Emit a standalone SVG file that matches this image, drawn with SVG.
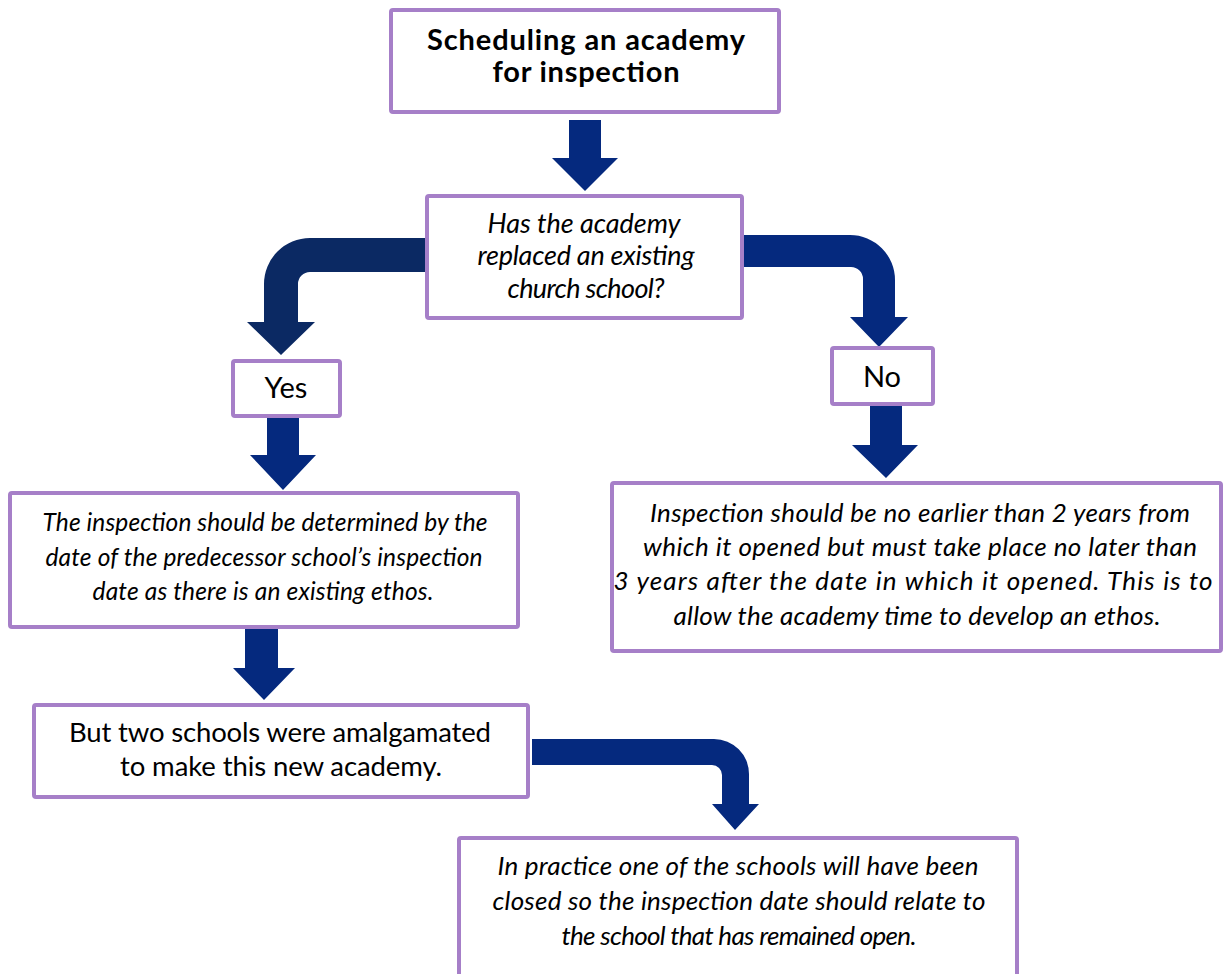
<svg xmlns="http://www.w3.org/2000/svg" width="1223" height="974" viewBox="0 0 1223 974">
<style>
.box{fill:#fff;stroke:#a67fc8;stroke-width:4;}
.arr{fill:#05297e;}
.arr2{fill:#0b2963;}
text{font-family:Lato,"Open Sans","Liberation Sans",sans-serif;fill:#000;text-anchor:middle;}
.t{font-size:29px;font-weight:bold;}
.i{font-size:24.5px;font-style:italic;}
.j{font-size:26px;font-style:italic;}
.q{font-size:27px;font-style:italic;}
.n{font-size:27.5px;}
.yn{font-size:29px;}
</style>
<rect width="1223" height="974" fill="#fff"/>
<g id="connectors">
<polygon class="arr" points="569,120 601,120 601,158 618,158 585,191 552,158 569,158"/>
<path class="arr2" d="M430,238 L310,238 A46,46 0 0 0 264,284 L264,322 L247,322 L281,355 L315,322 L298,322 L298,284 A12,12 0 0 1 310,272 L430,272 Z"/>
<path class="arr" d="M740,235 L850,235 A45,45 0 0 1 895,280 L895,317 L908,317 L879,347 L850,317 L863,317 L863,279 A12,12 0 0 0 851,267 L740,267 Z"/>
<polygon class="arr" points="267,418 299,418 299,455 316,455 283,490 250,455 267,455"/>
<polygon class="arr" points="870,406 902,406 902,445 918,445 886,478 852,445 870,445"/>
<polygon class="arr" points="245,628 278,628 278,668 295,668 264,700 233,668 245,668"/>
<path class="arr" d="M532,739 L714,739 A35,35 0 0 1 749,774 L749,804 L759,804 L735,830 L712,804 L722,804 L722,775 A10,10 0 0 0 712,765 L532,765 Z"/>
</g>
<g id="n1"><rect class="box" x="391" y="10" width="388" height="102" rx="2"/>
<text class="t" x="586" y="50" textLength="318">Scheduling an academy</text>
<text class="t" x="586" y="82" textLength="187">for inspection</text></g>
<g id="n2"><rect class="box" x="427" y="196" width="315" height="122" rx="2"/>
<text class="q" x="584" y="233" textLength="193">Has the academy</text>
<text class="q" x="586" y="265" textLength="217">replaced an existing</text>
<text class="q" x="586" y="298" textLength="157">church school?</text></g>
<g id="n3"><rect class="box" x="233" y="361" width="107" height="55" rx="2"/>
<text class="yn" x="286" y="398">Yes</text></g>
<g id="n4"><rect class="box" x="832" y="348" width="101" height="56" rx="2"/>
<text class="yn" x="882" y="387">No</text></g>
<g id="n5"><rect class="box" x="10" y="493" width="508" height="134" rx="2"/>
<text class="i" x="265" y="531" textLength="445">The inspection should be determined by the</text>
<text class="i" x="264" y="566" textLength="437">date of the predecessor school’s inspection</text>
<text class="i" x="263" y="600" textLength="341">date as there is an existing ethos.</text></g>
<g id="n6"><rect class="box" x="612" y="483" width="609" height="168" rx="2"/>
<text class="j" x="920" y="522" textLength="540">Inspection should be no earlier than 2 years from</text>
<text class="j" x="920" y="556" textLength="554">which it opened but must take place no later than</text>
<text class="j" x="913" y="590" textLength="599">3 years after the date in which it opened. This is to</text>
<text class="j" x="917" y="625" textLength="487">allow the academy time to develop an ethos.</text></g>
<g id="n7"><rect class="box" x="34" y="705" width="494" height="92" rx="2"/>
<text class="n" x="280" y="742" textLength="422">But two schools were amalgamated</text>
<text class="n" x="281" y="776" textLength="322">to make this new academy.</text></g>
<g id="n8"><rect class="box" x="459" y="838" width="558" height="150" rx="2"/>
<text class="j" x="738" y="875" textLength="481">In practice one of the schools will have been</text>
<text class="j" x="739" y="910" textLength="493">closed so the inspection date should relate to</text>
<text class="j" x="739" y="945" textLength="355">the school that has remained open.</text></g>
</svg>
